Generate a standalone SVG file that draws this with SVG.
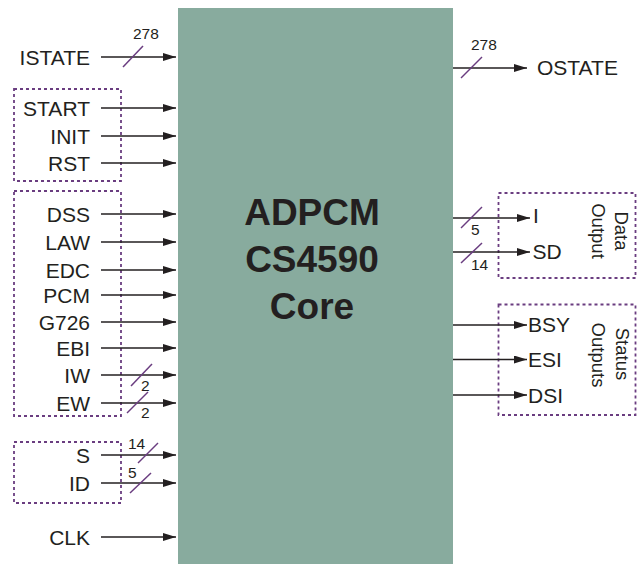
<svg xmlns="http://www.w3.org/2000/svg" width="637" height="564" viewBox="0 0 637 564">
<style>
text{font-family:"Liberation Sans",Arial,sans-serif;fill:#231f20}
.lbl{font-size:21px}
.l{text-anchor:end}
.num{font-size:15.5px}
.core{font-size:37px;font-weight:bold;text-anchor:middle}
.rot{font-size:18.5px;text-anchor:middle}
.sig{stroke:#231f20;stroke-width:1.6;fill:none;marker-end:url(#ah)}
.bus{stroke:#6a3d80;stroke-width:1.5}
.grp{fill:none;stroke:#6a3d80;stroke-width:1.8;stroke-dasharray:3 3}
</style>
<defs>
<marker id="ah" markerUnits="userSpaceOnUse" markerWidth="14" markerHeight="10" refX="13" refY="4" orient="auto">
<path d="M0,0 L13,4 L0,8 z" fill="#231f20"/>
</marker>
</defs>
<rect x="0" y="0" width="637" height="564" fill="#ffffff"/>
<g id="core">
<rect x="178" y="8" width="275" height="556" fill="#88ab9e"/>
<text class="core" x="312" y="225">ADPCM</text>
<text class="core" x="312" y="272">CS4590</text>
<text class="core" x="312" y="319">Core</text>
</g>
<g id="groups">
<rect class="grp" x="14" y="89" width="107" height="92"/>
<rect class="grp" x="14" y="191" width="107" height="225"/>
<rect class="grp" x="14" y="442" width="107" height="61"/>
<rect class="grp" x="498.5" y="193" width="137" height="85"/>
<rect class="grp" x="498.5" y="304.5" width="137" height="110.5"/>
</g>
<g id="connectors">
<line class="sig" x1="101" y1="57" x2="176" y2="57"/>
<line class="sig" x1="101" y1="108" x2="176" y2="108"/>
<line class="sig" x1="101" y1="136" x2="176" y2="136"/>
<line class="sig" x1="101" y1="163" x2="176" y2="163"/>
<line class="sig" x1="101" y1="214" x2="176" y2="214"/>
<line class="sig" x1="101" y1="242" x2="176" y2="242"/>
<line class="sig" x1="101" y1="270" x2="176" y2="270"/>
<line class="sig" x1="101" y1="295" x2="176" y2="295"/>
<line class="sig" x1="101" y1="322" x2="176" y2="322"/>
<line class="sig" x1="101" y1="348" x2="176" y2="348"/>
<line class="sig" x1="101" y1="375" x2="176" y2="375"/>
<line class="sig" x1="101" y1="403" x2="176" y2="403"/>
<line class="sig" x1="101" y1="455" x2="176" y2="455"/>
<line class="sig" x1="101" y1="483" x2="176" y2="483"/>
<line class="sig" x1="101" y1="537" x2="176" y2="537"/>
<line class="sig" x1="453" y1="68" x2="527" y2="68"/>
<line class="sig" x1="453" y1="218" x2="530" y2="218"/>
<line class="sig" x1="453" y1="252" x2="530" y2="252"/>
<line class="sig" x1="453" y1="325" x2="527" y2="325"/>
<line class="sig" x1="453" y1="359.5" x2="527" y2="359.5"/>
<line class="sig" x1="453" y1="395" x2="527" y2="395"/>
<line class="bus" x1="123" y1="67" x2="143" y2="46"/>
<line class="bus" x1="131" y1="386" x2="152" y2="364"/>
<line class="bus" x1="127" y1="413" x2="148" y2="392"/>
<line class="bus" x1="138" y1="463" x2="158" y2="443"/>
<line class="bus" x1="130" y1="493" x2="151" y2="473"/>
<line class="bus" x1="461" y1="78" x2="482" y2="57"/>
<line class="bus" x1="461" y1="228" x2="482" y2="207"/>
<line class="bus" x1="461" y1="263" x2="482" y2="243"/>
</g>
<g id="bus-widths">
<text class="num" x="133" y="39">278</text>
<text class="num" x="141" y="391">2</text>
<text class="num" x="141" y="418">2</text>
<text class="num" x="128" y="449">14</text>
<text class="num" x="128" y="478">5</text>
<text class="num" x="471" y="50">278</text>
<text class="num" x="471" y="235">5</text>
<text class="num" x="471" y="270">14</text>
</g>
<g id="inputs">
<text class="lbl l" x="90" y="65">ISTATE</text>
<text class="lbl l" x="90" y="115.5">START</text>
<text class="lbl l" x="90" y="143.5">INIT</text>
<text class="lbl l" x="90" y="170.5">RST</text>
<text class="lbl l" x="90" y="221.5">DSS</text>
<text class="lbl l" x="90" y="249.5">LAW</text>
<text class="lbl l" x="90" y="277.5">EDC</text>
<text class="lbl l" x="90" y="302.5">PCM</text>
<text class="lbl l" x="90" y="329.5">G726</text>
<text class="lbl l" x="90" y="355.5">EBI</text>
<text class="lbl l" x="90" y="382.5">IW</text>
<text class="lbl l" x="90" y="410.5">EW</text>
<text class="lbl l" x="90" y="462.5">S</text>
<text class="lbl l" x="90" y="490.5">ID</text>
<text class="lbl l" x="90" y="544.5">CLK</text>
</g>
<g id="outputs">
<text class="lbl" x="537" y="75">OSTATE</text>
<text class="lbl" x="533" y="223">I</text>
<text class="lbl" x="532.5" y="259">SD</text>
<text class="lbl" x="528" y="332">BSY</text>
<text class="lbl" x="528" y="367">ESI</text>
<text class="lbl" x="528" y="402.5">DSI</text>
</g>
<g id="data-output">
<text class="rot" transform="translate(615,231) rotate(90)">Data</text>
<text class="rot" transform="translate(591.5,231) rotate(90)">Output</text>
</g>
<g id="status-outputs">
<text class="rot" transform="translate(615.5,354) rotate(90)">Status</text>
<text class="rot" transform="translate(592,355) rotate(90)">Outputs</text>
</g>
</svg>
